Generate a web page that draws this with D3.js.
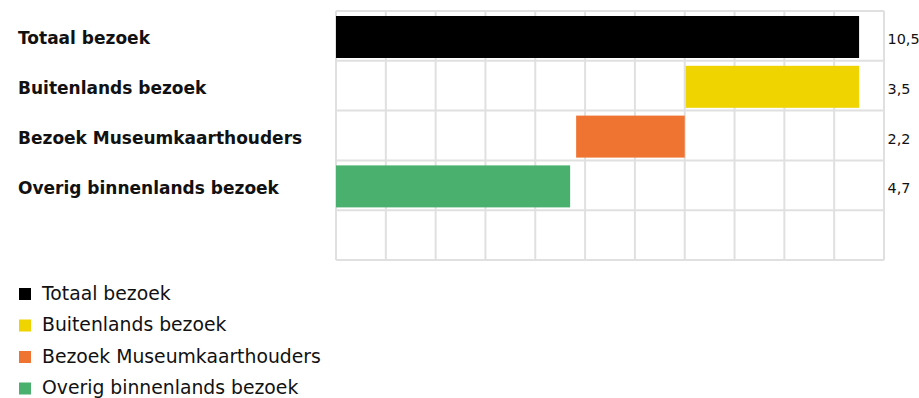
<!DOCTYPE html>
<html>
<head>
<meta charset="utf-8">
<script src="https://cdn.jsdelivr.net/npm/d3@7/dist/d3.min.js"></script>
<style>
  html, body { margin: 0; padding: 0; background: #fff; }
  svg { display: block; font-family: "DejaVu Sans", sans-serif; }
</style>
</head>
<body>
<svg id="chart" width="919" height="398"></svg>
<script>
// Bezoekcijfers (miljoen), opgebouwd als waterval
const categories = ["Totaal bezoek", "Buitenlands bezoek", "Bezoek Museumkaarthouders", "Overig binnenlands bezoek"];
const values = [10.5, 3.5, 2.2, 4.7];
const valueLabels = ["10,5", "3,5", "2,2", "4,7"];
const colors = ["#000000", "#efd400", "#ef7432", "#4ab06e"];
const xTicks = [0, 1, 2, 3, 4, 5, 6, 7, 8, 9, 10, 11];

// Start- en eindpunt van elke balk: totaal vanaf 0, de delen stapelen terug vanaf het totaal,
// het laatste deel begint weer bij 0
const total = values[0];
const segments = [{ x0: 0, x1: total, color: colors[0], label: valueLabels[0] }];
let end = total;
for (let i = 1; i < categories.length; i++) {
  const last = i === categories.length - 1;
  const start = last ? 0 : end - values[i];
  const stop = last ? values[i] : end;
  segments.push({ x0: start, x1: stop, color: colors[i], label: valueLabels[i] });
  end -= values[i];
}

const svg = d3.select("#chart");
const plot = { left: 336, right: 884, top: 11, bottom: 260 };

const x = d3.scaleLinear().domain([0, 11]).range([plot.left, plot.right]);
// vijf rijen in het raster; de laatste blijft leeg
const rows = d3.range(categories.length + 1);
const y = d3.scaleBand().domain(rows).range([plot.top, plot.bottom]);

const grid = svg.append("g").attr("stroke", "#e0e0e0").attr("stroke-width", 2);
grid.selectAll("line.v").data(xTicks).join("line")
  .attr("class", "v")
  .attr("x1", d => x(d)).attr("x2", d => x(d))
  .attr("y1", plot.top).attr("y2", plot.bottom);
grid.selectAll("line.h").data(d3.range(rows.length + 1)).join("line")
  .attr("class", "h")
  .attr("x1", plot.left).attr("x2", plot.right)
  .attr("y1", d => plot.top + d * y.step()).attr("y2", d => plot.top + d * y.step());

const barPadTop = 5, barH = 42;
svg.append("g").selectAll("rect").data(segments).join("rect")
  .attr("x", d => x(d.x0) + (d.x0 === 0 ? 0 : 1))
  .attr("width", d => x(d.x1) - x(d.x0) - (d.x0 === 0 ? 0 : 1))
  .attr("y", (d, i) => y(i) + barPadTop)
  .attr("height", barH)
  .attr("fill", d => d.color);

// categorielabels links
svg.append("g").selectAll("text").data(categories).join("text")
  .attr("x", 18)
  .attr("y", (d, i) => y(i) + y.bandwidth() / 2 + 8.5)
  .attr("font-size", 17)
  .attr("font-weight", 700)
  .attr("fill", "#111")
  .text(d => d);

// waarden rechts van het raster
svg.append("g").selectAll("text").data(segments).join("text")
  .attr("x", 887.5)
  .attr("y", (d, i) => y(i) + y.bandwidth() / 2 + 8)
  .attr("font-size", 14.4)
  .attr("fill", "#111")
  .text(d => d.label);

// legenda
const legend = svg.append("g").selectAll("g").data(categories).join("g")
  .attr("transform", (d, i) => `translate(0, ${299.5 + i * 31.5})`);
legend.append("rect").attr("x", 19).attr("y", -11.5).attr("width", 12).attr("height", 12)
  .attr("fill", (d, i) => colors[i]);
legend.append("text").attr("x", 42).attr("y", 0)
  .attr("font-size", 18.8).attr("fill", "#111").text(d => d);
</script>
</body>
</html>
